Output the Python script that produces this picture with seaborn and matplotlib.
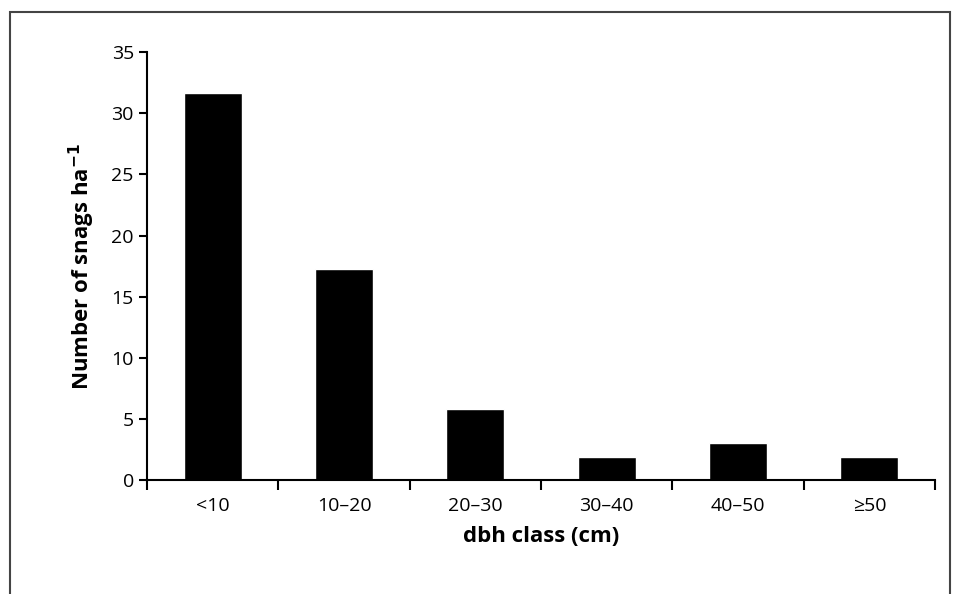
import matplotlib.pyplot as plt
import numpy as np
import pandas as pd
import seaborn as sns
from matplotlib.patches import Rectangle

sns.set_theme(style="ticks")
plt.rcParams["font.family"] = ["Open Sans", "DejaVu Sans"]
plt.rcParams["text.color"] = "black"
plt.rcParams["axes.labelcolor"] = "black"
plt.rcParams["xtick.color"] = "black"
plt.rcParams["ytick.color"] = "black"

classes = ["<10", "10\u201320", "20\u201330", "30\u201340", "40\u201350", "\u226550"]
snags = [31.7, 17.3, 5.8, 1.9, 3.0, 1.9]

df = pd.DataFrame({"dbh": classes, "snags": snags})

fig = plt.figure(figsize=(9.61, 5.94), dpi=100)
ax = fig.add_axes([0.153, 0.192, 0.820, 0.720])

sns.barplot(data=df, x="dbh", y="snags", color="black", width=0.44,
            saturation=1, ax=ax)

ax.set_xlim(-0.5, 5.5)
ax.set_ylim(0, 35)
ax.set_yticks(range(0, 36, 5))
ax.set_xticks(np.arange(-0.5, 6, 1), minor=True)
ax.tick_params(axis="x", which="major", length=0, labelsize=14, pad=12)
ax.tick_params(axis="x", which="minor", length=7, width=1.5, direction="out")
ax.tick_params(axis="y", length=6, width=1.5, labelsize=14)
for s in ["top", "right"]:
    ax.spines[s].set_visible(False)
for s in ["left", "bottom"]:
    ax.spines[s].set_linewidth(1.5)
    ax.spines[s].set_color("black")

ax.set_xlabel("dbh class (cm)", fontsize=16, fontweight="bold", labelpad=8)
ax.set_ylabel("Number of snags ha$^{\\mathbf{-1}}$", fontsize=16, fontweight="bold", labelpad=10)

fig.patches.append(Rectangle((10 / 961, -0.02), 940 / 961, 1.02 - 12 / 594,
                             transform=fig.transFigure, fill=False,
                             edgecolor="#444444", linewidth=1.5))

fig.savefig("out.png", dpi=100)
